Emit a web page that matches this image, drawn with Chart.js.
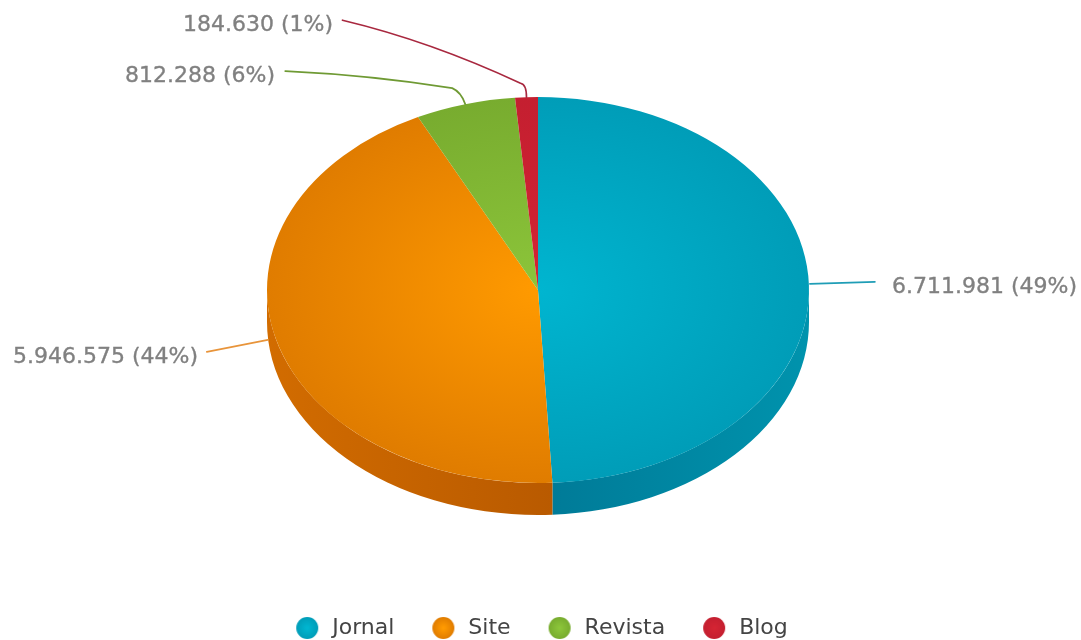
<!DOCTYPE html>
<html><head><meta charset="utf-8">
<style>html,body{margin:0;padding:0;background:#fff}canvas{display:block}</style>
<script src="https://cdn.jsdelivr.net/npm/chart.js@4"></script>
</head><body><canvas id="c" width="1081" height="640"></canvas>
<script>
const categories = ["Jornal", "Site", "Revista", "Blog"];
const values = [6711981, 5946575, 812288, 184630];
const valueLabels = ["6.711.981 (49%)", "5.946.575 (44%)", "812.288 (6%)", "184.630 (1%)"];
const centerColors = ["#00b5d0", "#ff9a00", "#8cc53a", "#d42433"];
const edgeColors = ["#009db8", "#e07c00", "#78ac2f", "#c41f30"];
const sideDark = ["#007b98", "#b95a00", "#5a8a20", "#8f1525"];
const sideLight = ["#0093ad", "#d26c00", "#6a9a28", "#a01a2a"];
const lineColors = ["#1f9db6", "#e8943a", "#6f9a34", "#a8283f"];

const CX = 538, CY = 290, SQUASH = 0.712, DEPTH = 32, RADIUS = 271;
// leader paths, relative to each slice's rim point
const leaders = [
  {s:[1,-1], e:[66,-3], tx:892, ty:287, align:"left"},
  {s:[-8,1], e:[-69,13], tx:198, ty:357, align:"right"},
  {s:[0,0], c1:[-4,-12], c2:[-13,-16], q:[-95,-29], e:[-180,-33], tx:275, ty:76, align:"right"},
  {s:[0,0], c1:[0,-13], c2:[-6,-14], q:[-96,-56], e:[-184,-77], tx:333, ty:25, align:"right"}
];

function marker(i){
  const m = document.createElement("canvas"); m.width = 24; m.height = 24;
  const x = m.getContext("2d");
  const g = x.createRadialGradient(12,12,1,12,12,11);
  g.addColorStop(0, centerColors[i]); g.addColorStop(1, edgeColors[i]);
  x.fillStyle = g; x.beginPath(); x.arc(12,12,11,0,Math.PI*2); x.fill();
  return m;
}
const markers = categories.map((_,i)=>marker(i));

function rim(chart, i){
  const a = chart.getDatasetMeta(0).data[i];
  const mid = (a.startAngle + a.endAngle)/2;
  return [CX + RADIUS*Math.cos(mid), CY + RADIUS*SQUASH*Math.sin(mid)];
}

const pie3d = {
  id:"pie3d",
  beforeDatasetsDraw(chart){
    const ctx = chart.ctx, arcs = chart.getDatasetMeta(0).data, ax = arcs[0].x, ay = arcs[0].y;
    const rx = RADIUS, ry = RADIUS*SQUASH;
    arcs.forEach((a,i)=>{
      const s = Math.max(a.startAngle,0), e = Math.min(a.endAngle,Math.PI);
      if (e <= s) return;
      const x0 = CX+rx*Math.cos(s), x1 = CX+rx*Math.cos(e);
      const g = ctx.createLinearGradient(x0,0,x1,0);
      const nearCentreAtEnd = i===0;
      g.addColorStop(0, nearCentreAtEnd ? sideLight[i] : sideDark[i]);
      g.addColorStop(1, nearCentreAtEnd ? sideDark[i] : sideLight[i]);
      ctx.fillStyle = g;
      ctx.beginPath();
      ctx.ellipse(CX,CY,rx,ry,0,s,e);
      ctx.ellipse(CX,CY+DEPTH,rx,ry,0,e,s,true);
      ctx.closePath(); ctx.fill();
    });
    ctx.save();
    ctx.translate(CX,CY); ctx.scale(1,SQUASH); ctx.translate(-ax,-ay);
  },
  afterDatasetsDraw(chart){
    const ctx = chart.ctx;
    ctx.restore();
    ctx.save();
    leaders.forEach((l,i)=>{
      const [rx0,ry0] = rim(chart,i);
      const P = p => [rx0+p[0], ry0+p[1]];
      ctx.strokeStyle = lineColors[i]; ctx.lineWidth = 1.7; ctx.lineCap = "round";
      ctx.beginPath();
      ctx.moveTo(...P(l.s));
      if (l.c1){
        ctx.quadraticCurveTo(...P(l.c1),...P(l.c2));
        ctx.quadraticCurveTo(...P(l.q),...P(l.e));
      } else {
        ctx.lineTo(...P(l.e));
      }
      ctx.stroke();
      ctx.font = "22px 'DejaVu Sans'";
      ctx.fillStyle = "#808080";
      ctx.strokeStyle = "#808080"; ctx.lineWidth = 0.35;
      ctx.textAlign = l.align; ctx.textBaseline = "middle";
      ctx.fillText(valueLabels[i], l.tx, l.ty);
      ctx.strokeText(valueLabels[i], l.tx, l.ty);
    });
    ctx.restore();
  }
};

function sliceFill(context){
  const area = context.chart.chartArea, i = context.dataIndex;
  if (!area) return edgeColors[i];
  const x = (area.left+area.right)/2, y = (area.top+area.bottom)/2;
  const g = context.chart.ctx.createRadialGradient(x,y,0,x,y,RADIUS);
  g.addColorStop(0, centerColors[i]); g.addColorStop(1, edgeColors[i]);
  return g;
}

new Chart(document.getElementById("c"), {
  type:"pie",
  data:{labels:categories, datasets:[{data:values, backgroundColor:sliceFill, borderWidth:0, radius:RADIUS, clip:false}]},
  options:{
    responsive:false, animation:false, events:[],
    layout:{padding:{bottom:-9}},
    plugins:{
      tooltip:{enabled:false},
      legend:{position:"bottom", labels:{
        usePointStyle:true, boxHeight:17, pointStyleWidth:28, padding:35, color:"#444",
        font:{family:"'DejaVu Sans'", size:22},
        generateLabels:()=>categories.map((t,i)=>({text:t, index:i, pointStyle:markers[i], fillStyle:edgeColors[i], strokeStyle:edgeColors[i], lineWidth:0, hidden:false, fontColor:"#444"}))
      }}
    }
  },
  plugins:[pie3d]
});
</script></body></html>
